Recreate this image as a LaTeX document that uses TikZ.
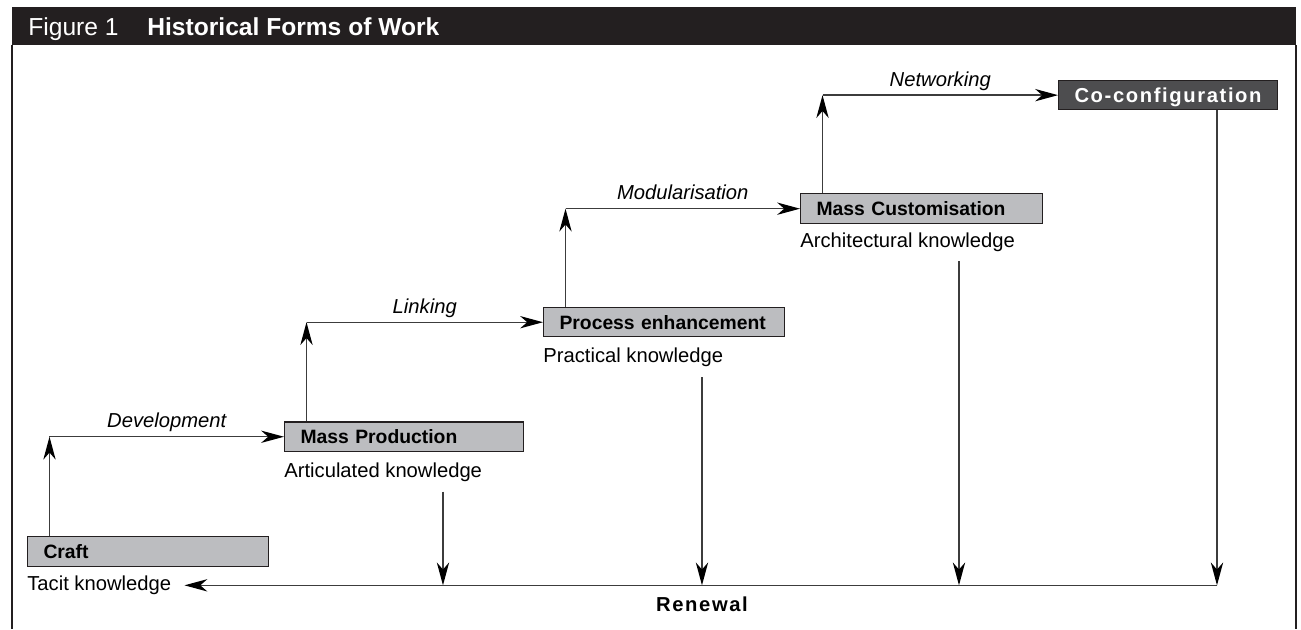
\documentclass[tikz,border=0pt]{standalone}
\usepackage{fontspec}
\setmainfont{Liberation Sans}
\newfontfamily\spacedfont[LetterSpace=8]{Liberation Sans}
\usetikzlibrary{arrows.meta,positioning}

\definecolor{boxgray}{RGB}{188,189,192}
\definecolor{darkbox}{RGB}{77,77,79}
\definecolor{headblack}{RGB}{35,31,32}
\definecolor{linegray}{RGB}{60,60,60}

\begin{document}
\begin{tikzpicture}[
    x=0.02cm, y=-0.02cm,
    font=\fontsize{11.5pt}{13pt}\selectfont,
    box/.style={rectangle, draw=headblack, line width=0.6pt, fill=boxgray, inner xsep=0.32cm, inner ysep=0pt, text width=4.18cm, text height=8pt, text depth=0pt, minimum height=0.59cm, align=left, font=\fontsize{11pt}{13pt}\selectfont\bfseries},
    darkstep/.style={box, fill=darkbox, text=white, text width=3.74cm, font=\spacedfont\fontsize{11.5pt}{13pt}\selectfont\bfseries},
    knowledge/.style={inner sep=0pt},
    steplabel/.style={inner sep=0pt, anchor=base, yshift=0.18cm, font=\fontsize{11.5pt}{13pt}\selectfont\itshape},
    headtext/.style={anchor=base west, inner sep=0pt, text=white, font=\fontsize{14pt}{16pt}\selectfont},
    arrow/.style={draw=linegray, line width=0.75pt, -{Stealth[length=13pt, width=7pt, inset=4pt, color=black]}}
]
\useasboundingbox (0,0) rectangle (1301,629);

% Frame and heading
\fill[headblack] (12,7) rectangle (1296,45);
\draw[headblack, line width=0.8pt] (12,45) -- (12,629) (1296,45) -- (1296,629);
\node[headtext] (fignum) at (28,35) {Figure 1};
\node[headtext, font=\fontsize{14pt}{16pt}\selectfont\bfseries] (figtitle) at (147,35) {Historical Forms of Work};

% Define nodes from bottom left to top right
\node [box, anchor=north west] (craft) at (27,536) {Craft};
\node [box, text width=4.14cm, above right=1.68cm and 0.3cm of craft.north east] (massprod) {Mass Production};
\node [box, above right=1.68cm and 0.38cm of massprod.north east] (process) {Process enhancement};
\node [box, text width=4.2cm, above right=1.66cm and 0.3cm of process.north east] (masscust) {Mass Customisation};
\node [darkstep, above right=1.66cm and 0.3cm of masscust.north east] (coconf) {Co-configuration};

% Knowledge below each box
\node [knowledge, below=0.48cm of craft.south west, anchor=base west] (tacit) {Tacit knowledge};
\node [knowledge, below=0.5cm of massprod.south west, anchor=base west] (articulated) {Articulated knowledge};
\node [knowledge, below=0.5cm of process.south west, anchor=base west] (practical) {Practical knowledge};
\node [knowledge, below=0.48cm of masscust.south west, anchor=base west] (architectural) {Architectural knowledge};

% Steps up
\path (craft.north west) ++(0.45cm,0) coordinate (craftup);
\path (massprod.north west) ++(0.45cm,0) coordinate (mpup);
\path (process.north west) ++(0.45cm,0) coordinate (peup);
\path (masscust.north west) ++(0.45cm,0) coordinate (mcup);
\coordinate (devturn) at (craftup |- massprod.west);
\coordinate (linkturn) at (mpup |- process.west);
\coordinate (modturn) at (peup |- masscust.west);
\coordinate (netturn) at (mcup |- coconf.west);

\draw [arrow] (craftup) -- (devturn);
\draw [arrow] (devturn) -- node[steplabel, midway] {Development} (massprod.west);
\draw [arrow] (mpup) -- (linkturn);
\draw [arrow] (linkturn) -- node[steplabel, midway] {Linking} (process.west);
\draw [arrow] (peup) -- (modturn);
\draw [arrow] (modturn) -- node[steplabel, midway] {Modularisation} (masscust.west);
\draw [arrow] (mcup) -- (netturn);
\draw [arrow] (netturn) -- node[steplabel, midway] {Networking} (coconf.west);

% Renewal
\path (massprod.south west) ++(3.18cm,0) coordinate (mpdown);
\path (process.south west) ++(3.18cm,0) coordinate (pedown);
\path (masscust.south west) ++(3.18cm,0) coordinate (mcdown);
\path (coconf.south west) ++(3.18cm,0) coordinate (ccdown);
\coordinate (pemeet) at (pedown |- tacit.east);

\draw [arrow] ([yshift=-0.2cm]mpdown |- articulated.south) -- (mpdown |- tacit.east);
\draw [arrow] ([yshift=-0.2cm]pedown |- practical.south) -- (pemeet);
\draw [arrow] ([yshift=-0.18cm]mcdown |- architectural.south) -- (mcdown |- tacit.east);
\draw [arrow] (ccdown) -- (ccdown |- tacit.east);
\draw [arrow] (ccdown |- tacit.east) -- ([xshift=0.26cm]tacit.east);
\node [below=0.52cm of pemeet, anchor=base, inner sep=0pt, font=\spacedfont\fontsize{11.5pt}{13pt}\selectfont\bfseries] (renewal) {Renewal};

\end{tikzpicture}
\end{document}
